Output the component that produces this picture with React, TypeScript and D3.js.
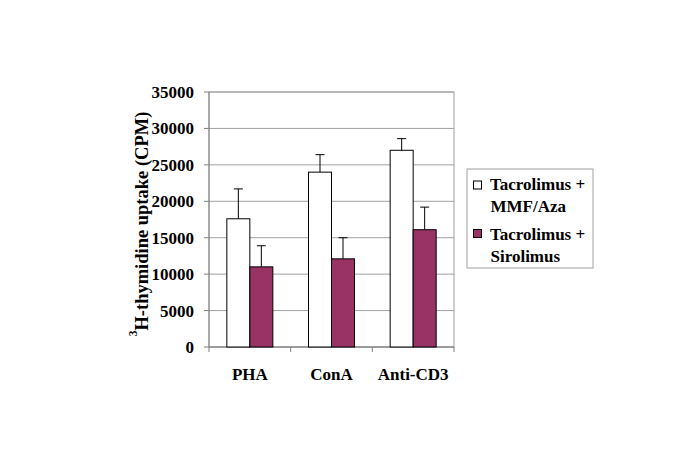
import React from "react";
import * as d3 from "d3";

const categories = ["PHA", "ConA", "Anti-CD3"];
const seriesNames = ["Tacrolimus + MMF/Aza", "Tacrolimus + Sirolimus"];
const legendLines = [["Tacrolimus +", "MMF/Aza"], ["Tacrolimus +", "Sirolimus"]];
const meanMMF = [17600, 24000, 27000];
const errMMF = [21700, 26400, 28600];
const meanSiro = [11000, 12100, 16100];
const errSiro = [13900, 15000, 19200];
const yTicks = [0, 5000, 10000, 15000, 20000, 25000, 30000, 35000];
const colors = ["#ffffff", "#993366"];

export default function App() {
  const W = 685, H = 456;
  const left = 209, right = 454, top = 92, bottom = 347;
  const y = d3.scaleLinear().domain([0, 35000]).range([bottom, top]);
  const x = d3.scaleBand<string>().domain(categories).range([left, right]);
  const bw = 23;
  const font = "'Liberation Serif', 'Times New Roman', serif";
  const series = [
    { mean: meanMMF, err: errMMF },
    { mean: meanSiro, err: errSiro },
  ];
  return (
    <svg width={W} height={H} style={{ position: "absolute", left: 0, top: 0, background: "#fff" }}>
      <rect x={0} y={0} width={W} height={H} fill="#fff" />
      {yTicks.map((t) => (
        <line key={t} x1={left} x2={right} y1={y(t)} y2={y(t)} stroke="#a0a0a0" strokeWidth={1} />
      ))}
      <rect x={left} y={top} width={right - left} height={bottom - top} fill="none" stroke="#a0a0a0" strokeWidth={1} />
      <line x1={left} x2={left} y1={top} y2={bottom} stroke="#808080" />
      <line x1={left} x2={right} y1={bottom} y2={bottom} stroke="#808080" />
      {yTicks.map((t) => (
        <g key={"l" + t}>
          <line x1={left - 5} x2={left} y1={y(t)} y2={y(t)} stroke="#808080" />
          <text x={194} y={y(t)} dy="0.35em" textAnchor="end" fontFamily={font} fontWeight="bold" fontSize={17} fill="#000">
            {t}
          </text>
        </g>
      ))}
      {[left, ...categories.map((c) => (x(c) as number) + x.bandwidth())].map((xx, i) => (
        <line key={"ct" + i} x1={xx} x2={xx} y1={bottom} y2={bottom + 5} stroke="#808080" />
      ))}
      {categories.map((c, i) => {
        const cx = (x(c) as number) + x.bandwidth() / 2;
        return (
          <g key={c}>
            {series.map((s, j) => {
              const bx = cx - bw + j * bw;
              const ex = bx + bw / 2;
              return (
                <g key={j}>
                  <line x1={ex} x2={ex} y1={y(s.mean[i])} y2={y(s.err[i])} stroke="#000" strokeWidth={1} />
                  <line x1={ex - 4.5} x2={ex + 4.5} y1={y(s.err[i])} y2={y(s.err[i])} stroke="#000" strokeWidth={1} />
                  <rect x={bx} y={y(s.mean[i])} width={bw} height={bottom - y(s.mean[i])} fill={colors[j]} stroke="#000" strokeWidth={1} />
                </g>
              );
            })}
            <text x={cx} y={380} textAnchor="middle" fontFamily={font} fontWeight="bold" fontSize={17} fill="#000">
              {c}
            </text>
          </g>
        );
      })}
      <text transform={`translate(144,224) rotate(-90)`} textAnchor="middle" fontFamily={font} fontWeight="bold" fontSize={18.5} fill="#000">
        <tspan fontSize={11.5} dy="-0.6em">3</tspan>
        <tspan dy="0.6em">H-thymidine uptake (CPM)</tspan>
      </text>
      <rect x={467} y={169} width={126} height={99} fill="#fff" stroke="#a0a0a0" />
      {seriesNames.map((n, j) => (
        <g key={n}>
          <rect x={473.5} y={181 + j * 48.5} width={8} height={8} fill={colors[j]} stroke="#000" strokeWidth={1} />
          <text fontFamily={font} fontWeight="bold" fontSize={17} fill="#000">
            <tspan x={490} y={190 + j * 50}>{legendLines[j][0]}</tspan>
            <tspan x={490.5} y={211.5 + j * 50}>{legendLines[j][1]}</tspan>
          </text>
        </g>
      ))}
    </svg>
  );
}
